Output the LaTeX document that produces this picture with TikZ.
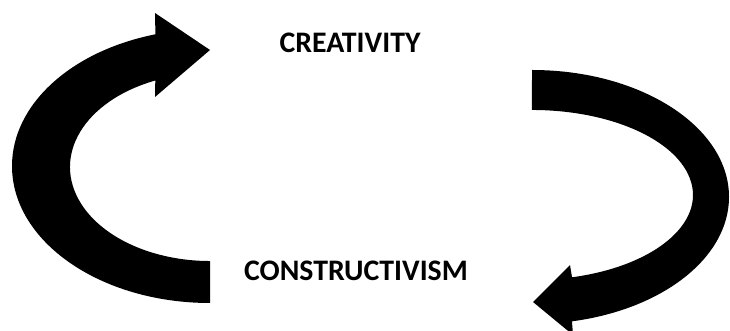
\documentclass[tikz,border=0pt]{standalone}
\usepackage{fontspec}
\setmainfont{Carlito}
\begin{document}
\begin{tikzpicture}[x=1pt,y=1pt,
  bigarrow/.style={fill=black,draw=none},
  label/.style={font=\fontsize{29.8}{34}\selectfont\bfseries,inner sep=0pt,anchor=center}]
\useasboundingbox (0,0) rectangle (730,331);
\clip (0,0) rectangle (730,331);
% left arrow (bottom -> top, pointing right)
\path[bigarrow] (210,28) arc[start angle=270,end angle=106,x radius=198,y radius=137]
  -- (155,318) -- (210,281) -- (155,234) -- (155.3,250.5)
  arc[start angle=113,end angle=270,x radius=140,y radius=94] -- cycle;
% right arrow (top -> bottom, pointing left)
\path[bigarrow] (532,261) arc[start angle=90,end angle=-78.3,x radius=197,y radius=127]
  -- (573,-4) -- (533,29) -- (570,66) -- (572,53.7)
  arc[start angle=-75.6,end angle=90,x radius=161,y radius=85] -- cycle;
\node[label] (creativity) at (350,288) {CREATIVITY};
\node[label] (constructivism) at (356,60) {CONSTRUCTIVISM};
\end{tikzpicture}
\end{document}
